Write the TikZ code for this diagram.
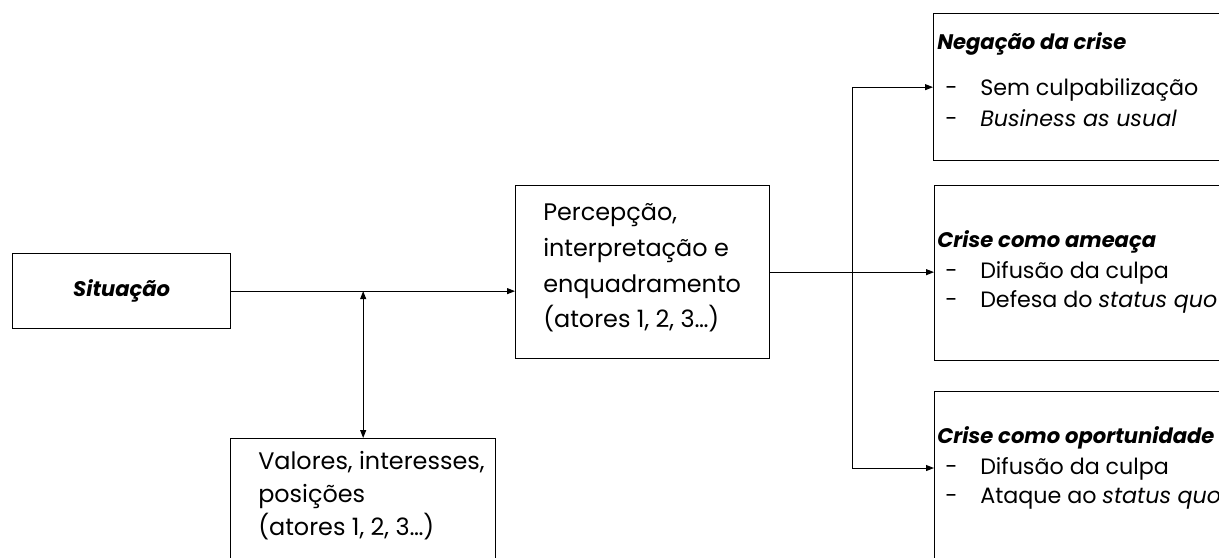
\documentclass[tikz,border=0pt]{standalone}
\usepackage{fontspec}
\setmainfont{Poppins}
\usetikzlibrary{arrows.meta}

\begin{document}
\begin{tikzpicture}[x=0.025cm, y=-0.025cm,
        bx/.style={rectangle, draw, line width=0.9pt, inner sep=0pt, anchor=north west},
        tx/.style={anchor=north west, align=left, inner sep=0pt, font=\fontsize{15.8}{20.6}\selectfont},
        tx2/.style={anchor=north west, align=left, inner sep=0pt, font=\fontsize{17}{25.5}\selectfont},
        ttl/.style={font=\fontsize{15}{18}\selectfont\bfseries\itshape},
        arr/.style={-{Triangle[length=2mm, width=1.5mm]}, line width=0.7pt},
        arr2/.style={{Triangle[length=2mm, width=1.5mm]}-{Triangle[length=2mm, width=1.5mm]}, line width=0.7pt},
        ]
      \clip (0,0) rectangle (1219,558);

      % caixas
      \node[bx, minimum width=5.45cm, minimum height=1.875cm] (sit) at (12,253) {};
      \node[bx, minimum width=6.625cm, minimum height=4cm] (val) at (230,438) {};
      \node[bx, minimum width=6.35cm, minimum height=4.325cm] (perc) at (515,185) {};
      \node[bx, minimum width=8cm, minimum height=3.675cm] (neg) at (933,13) {};
      \node[bx, minimum width=8cm, minimum height=4.375cm] (ame) at (934,185) {};
      \node[bx, minimum width=8cm, minimum height=5cm] (opo) at (934,391) {};

      % textos
      \node[ttl] (sit-t) at (sit.center) {Situação};
      \node[tx2] (perc-t) at (543,203) {Percepção,\\interpretação e\\enquadramento\\(atores 1, 2, 3…)};
      \node[tx2, font=\fontsize{17}{23.5}\selectfont] (val-t) at (258,451) {Valores, interesses,\\posições\\(atores 1, 2, 3…)};
      \node[tx] (neg-t) at (937,32) {{\fontsize{15}{18}\selectfont\bfseries\itshape Negação da crise}\\[12pt]
        \hspace*{0.2cm}\makebox[0.875cm][l]{-}Sem culpabilização\\[1.5pt]
        \hspace*{0.2cm}\makebox[0.875cm][l]{-}\textit{Business as usual}};
      \node[tx] (ame-t) at (937,230) {{\fontsize{15}{18}\selectfont\bfseries\itshape Crise como ameaça}\\[2pt]
        \hspace*{0.2cm}\makebox[0.875cm][l]{-}Difusão da culpa\\
        \hspace*{0.2cm}\makebox[0.875cm][l]{-}Defesa do \textit{status quo}};
      \node[tx] (opo-t) at (937,426) {{\fontsize{15}{18}\selectfont\bfseries\itshape Crise como oportunidade}\\[2pt]
        \hspace*{0.2cm}\makebox[0.875cm][l]{-}Difusão da culpa\\
        \hspace*{0.2cm}\makebox[0.875cm][l]{-}Ataque ao \textit{status quo}};

      \coordinate (ramo) at (852,0 |- perc.east);
      \coordinate (entra) at ([yshift=-1.925cm]opo.north west);

      % setas
      \draw[arr] (sit.east) -- (perc.west |- sit.east);
      \draw[arr2] (val.north) -- (val.north |- sit.east);
      \draw[arr] (perc.east) -- (ame.west |- perc.east);
      \draw[arr] (ramo) |- (neg.west);
      \draw[arr] (ramo) |- (entra);
    \end{tikzpicture}
\end{document}
